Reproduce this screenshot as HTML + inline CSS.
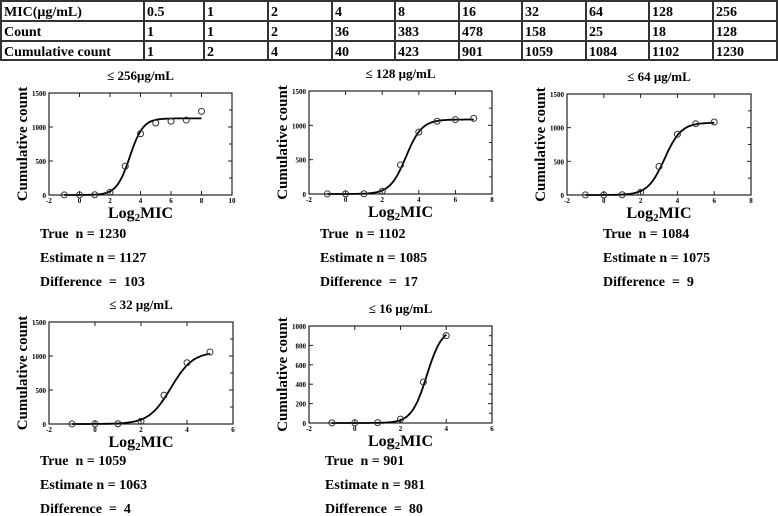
<!DOCTYPE html>
<html><head><meta charset="utf-8"><style>
body{margin:0;background:#fff;width:778px;height:516px;overflow:hidden;font-family:"Liberation Serif",serif;}
svg{position:absolute;left:0;top:0}
text{white-space:pre}
</style></head><body>
<svg id="s" width="778" height="516" xmlns="http://www.w3.org/2000/svg"></svg>
<script>
const micLabels=["0.5","1","2","4","8","16","32","64","128","256"];
const counts=[1,1,2,36,383,478,158,25,18,128];
const cumCounts=[1,2,4,40,423,901,1059,1084,1102,1230];
const log2Mic=[-1,0,1,2,3,4,5,6,7,8];
const chartTitles=["≤ 256μg/mL","≤ 128 μg/mL","≤ 64 μg/mL","≤ 32 μg/mL","≤ 16 μg/mL"];
const nPoints=[10,9,8,7,6];
const trueN=[1230,1102,1084,1059,901];
const estN=[1127,1085,1075,1063,981];
const diffN=[103,17,9,4,80];
const midX=[3.3,3.3,3.3,3.3,3.15];
const slopeK=[2.3,2.3,2.2,2.1,3.0];
const xTicks=[[-2,0,2,4,6,8,10],[-2,0,2,4,6,8],[-2,0,2,4,6,8],[-2,0,2,4,6],[-2,0,2,4,6]];
const yTicks=[[0,500,1000,1500],[0,500,1000,1500],[0,500,1000,1500],[0,500,1000,1500],[0,200,400,600,800,1000]];

const NS="http://www.w3.org/2000/svg";
const S=document.getElementById('s');
function mk(t,a,p){const e=document.createElementNS(NS,t);for(const k in a)e.setAttribute(k,a[k]);(p||S).appendChild(e);return e;}
function tx(x,y,str,sz,anchor,p){const e=mk('text',{x:x,y:y,'font-size':sz,'font-weight':'bold','text-anchor':anchor||'start','font-family':'Liberation Serif, serif'},p);e.textContent=str;return e;}

const tg=mk('g',{});


const colX=[1,144,204,268,332,395,459,522,586,649,713,777];
const rowY=[1,21,41,60];
mk('rect',{x:1,y:1,width:776,height:59,fill:'none',stroke:'#333','stroke-width':2},tg);
for(let i=1;i<3;i++)mk('line',{x1:1,x2:777,y1:rowY[i],y2:rowY[i],stroke:'#333','stroke-width':2},tg);
for(let i=1;i<colX.length-1;i++)mk('line',{x1:colX[i],x2:colX[i],y1:1,y2:60,stroke:'#333','stroke-width':2},tg);
const rows=[["MIC(μg/mL)",micLabels],["Count",counts],["Cumulative count",cumCounts]];
rows.forEach((r,ri)=>{const y=rowY[ri]+15;
  const h=tx(4,y,r[0],14,'start',tg);
  
  
  r[1].forEach((v,ci)=>{const c=tx(colX[ci+1]+3,y,String(v),14,'start',tg);
    
    });
});

const boxes=[{x:49,y:93,w:183,h:102,tx:40,ty:238},{x:309,y:91,w:183,h:103,tx:320,ty:238},{x:567,y:94,w:184,h:101,tx:603,ty:238},
{x:49,y:322,w:184,h:102,tx:40,ty:465},{x:309,y:326,w:183,h:97,tx:325,ty:465}];

boxes.forEach((b,i)=>{
  const g=mk('g',{});
  
  
  const xt=xTicks[i],yt=yTicks[i];
  const x0=xt[0],x1=xt[xt.length-1],y0=yt[0],y1=yt[yt.length-1];
  const sx=v=>b.x+(v-x0)/(x1-x0)*b.w, sy=v=>b.y+b.h-(v-y0)/(y1-y0)*b.h;
  const t=tx(b.x+b.w/2,b.y-13,chartTitles[i],13,'middle',g);
  
  
  mk('rect',{x:b.x,y:b.y,width:b.w,height:b.h,fill:'none',stroke:'#222','stroke-width':1.2},g);
  xt.forEach(v=>{const X=sx(v);mk('line',{x1:X,x2:X,y1:b.y+b.h,y2:b.y+b.h-4,stroke:'#222'},g);mk('line',{x1:X,x2:X,y1:b.y,y2:b.y+4,stroke:'#222'},g);
    const l=tx(X,b.y+b.h+8,String(v),7,'middle',g);});
  yt.forEach(v=>{const Y=sy(v);mk('line',{x1:b.x,x2:b.x+4,y1:Y,y2:Y,stroke:'#222'},g);mk('line',{x1:b.x+b.w,x2:b.x+b.w-4,y1:Y,y2:Y,stroke:'#222'},g);
    const l=tx(b.x-3,Y+3,String(v),7,'end',g);});
  for(let k=0;k<yt.length-1;k++){const Y=sy((yt[k]+yt[k+1])/2);mk('line',{x1:b.x+b.w,x2:b.x+b.w-3,y1:Y,y2:Y,stroke:'#222'},g);}
  const xl=tx(b.x+b.w/2,b.y+b.h+23,'Log',16,'middle',g);
  
  
  const ts=mk('tspan',{'font-size':11,dy:3},xl);ts.textContent='2';
  const ts2=mk('tspan',{dy:-3},xl);ts2.textContent='MIC';
  const yl=tx(0,0,'Cumulative count',15,'middle',g);
  yl.setAttribute('transform','translate('+(b.x-22)+','+(b.y+b.h/2)+') rotate(-90)');
  
  
  const n=nPoints[i],xmin=log2Mic[0],xmax=log2Mic[n-1];let d='';
  for(let s=0;s<=100;s++){const xv=xmin+(xmax-xmin)*s/100;const yv=estN[i]/(1+Math.exp(-slopeK[i]*(xv-midX[i])));d+=(s?'L':'M')+sx(xv).toFixed(1)+','+sy(yv).toFixed(1);}
  const c=mk('path',{d:d,fill:'none',stroke:'#000','stroke-width':1.8},g);
  
  
  for(let k=0;k<n;k++){const p=mk('circle',{cx:sx(log2Mic[k]),cy:sy(cumCounts[k]),r:3,fill:'none',stroke:'#333','stroke-width':1},g);
    
    }
  const lines=['True  n = '+trueN[i],'Estimate n = '+estN[i],'Difference  =  '+diffN[i]];
  lines.forEach((s,k)=>{const e=tx(b.tx,b.ty+k*24,s,14,'start',g);
    
    });
});
</script>
</body></html>
